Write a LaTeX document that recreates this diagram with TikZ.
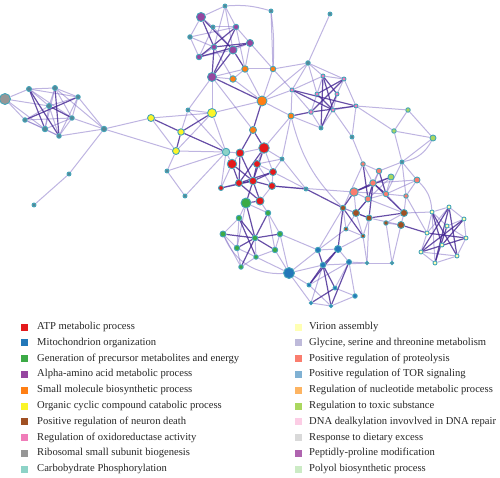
\documentclass[tikz,border=0pt]{standalone}
\usepackage{fontspec}
\setmainfont{Liberation Serif}
\pgfdeclarelayer{bg}
\pgfsetlayers{bg,main}

% legend colours
\definecolor{atp}{RGB}{228,26,28}
\definecolor{mito}{RGB}{35,120,185}
\definecolor{gen}{RGB}{60,170,70}
\definecolor{amino}{RGB}{150,70,160}
\definecolor{smol}{RGB}{255,127,20}
\definecolor{orgc}{RGB}{250,245,40}
\definecolor{neur}{RGB}{160,80,35}
\definecolor{oxid}{RGB}{240,125,185}
\definecolor{ribo}{RGB}{150,150,150}
\definecolor{carb}{RGB}{141,211,199}
\definecolor{vir}{RGB}{255,255,179}
\definecolor{gly}{RGB}{190,186,218}
\definecolor{prot}{RGB}{250,125,110}
\definecolor{tor}{RGB}{128,177,211}
\definecolor{nucl}{RGB}{253,180,98}
\definecolor{tox}{RGB}{170,215,95}
\definecolor{dna}{RGB}{252,205,229}
\definecolor{diet}{RGB}{217,217,217}
\definecolor{pep}{RGB}{175,100,175}
\definecolor{poly}{RGB}{204,235,197}
\definecolor{tcol}{RGB}{85,135,150}
\definecolor{ringc}{RGB}{70,165,185}
\definecolor{edgel}{RGB}{125,105,195}
\definecolor{edged}{RGB}{65,35,145}

\tikzset{
  vt/.style={circle, draw=ringc, line width=0.9pt, inner sep=0pt},
  lt/.style={draw=edgel, line width=1pt, opacity=0.5},
  dk/.style={draw=edged, line width=1.2pt, opacity=0.8},
  swatch/.style={rectangle, inner sep=0pt, minimum size=7pt},
  lgtxt/.style={anchor=west, inner sep=0pt, text=black!85, font=\fontsize{10.6}{13}\selectfont}
}

\begin{document}
\begin{tikzpicture}[x=1pt, y=-1pt]
\useasboundingbox (0,0) rectangle (500,478);

% network nodes
\foreach \nm/\px/\py/\col/\sz in {
  g0/5/99/ribo/11, g1/29/89/tcol/5, g2/55/88/tcol/5, g3/78/97/tcol/4.5,
  g4/49/106/tcol/5, g5/25/120/tcol/4.5, g6/72/118/tcol/4.5, g7/45/129/tcol/5.5,
  g8/59/136/tcol/4.5, h1/104/129/tcol/5.5, h2/69/174/tcol/4, h3/34/205/tcol/4,
  y1/151/118/orgc/7, y2/212/113/orgc/9, y3/181/132/orgc/6.5, y4/176/151/orgc/7,
  t1/188/110/tcol/4, t2/167/171/tcol/4, t3/185/196/tcol/4, c1/226/152/carb/7.5,
  p1/201/17/amino/9, t4/225/6/tcol/4, t5/190/37/tcol/4.5, t6/213/27/tcol/4,
  p2/236/27/amino/5.5, p3/250/43/amino/7, p4/214/47/amino/5.5, p5/233/50/amino/8,
  p6/199/57/amino/5.5, p7/212/77/amino/9, o1/245/69/smol/6.5, o2/233/79/smol/6.5,
  o3/273/69/smol/5.5, t7/271/11/tcol/4, o4/262/101/smol/10, o5/291/116/smol/6,
  o6/253/130/smol/7, t8/330/14/tcol/4, t9/308/63/tcol/4.5,
  k1/292/90/oxid/4, k2/323/76/oxid/4, k3/344/79/oxid/4, k4/317/94/oxid/4,
  k5/337/94/oxid/4, k6/356/106/oxid/4, k7/311/112/oxid/4.5, k8/333/110/oxid/4,
  t10/321/128/tcol/4, t11/352/137/tcol/4,
  l1/408/110/tox/4.5, l2/394/131/tox/4.5, l3/433/138/tox/6,
  r1/240/153/atp/8, r2/264/148/atp/10.5, r3/232/164/atp/9.5, r4/257/164/atp/7,
  t12/282/159/tcol/4, r5/273/172/atp/7, r6/239/183/atp/7, r7/253/181/atp/7.5,
  r8/272/186/atp/7, r9/221/188/atp/5, r10/260/201/atp/8, t13/306/189/tcol/4,
  n1/246/203/gen/10, n2/268/213/gen/5.5, n3/239/218/gen/5.5, n4/223/234/gen/6,
  n5/255/238/gen/5.5, n6/280/234/gen/5.5, n7/237/248/gen/5.5, n8/275/250/gen/5.5,
  n9/256/257/gen/4.5, n10/241/267/gen/4.5,
  b1/289/273/mito/11, b2/318/250/mito/5.5, b3/338/249/mito/7, b4/323/265/mito/5.5,
  b5/349/262/mito/5, b6/309/285/mito/4, b7/335/288/mito/4, b8/311/303/mito/3.5,
  b9/331/306/mito/3.5, b10/355/296/mito/4.5, d1/367/263/tcol/3.5, d2/392/263/tcol/3.5,
  s1/363/164/prot/4.5, s2/379/171/prot/5.5, t14/402/162/tcol/4, l4/391/177/tox/6,
  s3/373/183/prot/6.5, s4/354/192/prot/8.5, s5/386/194/prot/5.5, s6/368/199/prot/6,
  s7/417/180/prot/6, s8/406/196/prot/4.5,
  u1/343/208/neur/5.5, u2/356/213/neur/7, u3/369/218/neur/6, u4/404/213/neur/7,
  u5/386/223/neur/4.5, u6/401/225/neur/7, u7/346/229/neur/4, u8/363/236/neur/4,
  w1/432/212/vir/4, w2/449/207/vir/4, w3/464/219/vir/4, w4/447/226/vir/4,
  w5/427/233/vir/4, w6/466/238/vir/4, w7/442/245/vir/4, w8/421/252/vir/4,
  w9/457/256/vir/4, w10/435/263/vir/4}
  \node[vt, fill=\col, minimum size=\sz pt] (\nm) at (\px,\py) {};

\begin{pgfonlayer}{bg}
% light edges
\foreach \a/\b in {
  g0/g1, g0/g4, g0/g5, g0/g7, g1/g2, g1/g4, g1/g6, g1/g3, g2/g4, g2/g3, g2/g7,
  g2/g6, g3/g4, g3/g6, g3/g8, g4/g5, g4/g7, g4/g8, g5/g7, g5/g6, g6/g8, g6/g7,
  g7/g8, g5/g8, g3/h1, g6/h1, g8/h1, g2/h1,
  h1/y1, h1/y4, h1/h2, h2/h3,
  y1/y2, y1/y4, y4/y2, t1/c1, t1/y3, t1/p7, y4/c1, t2/c1, t2/t3, t3/c1, y2/o4,
  y2/p7, y2/c1, y2/t1, t2/y4,
  p1/t6, p1/t4, p1/t5, t5/p2, t5/p4, t5/p6, t6/p5, t6/p2, t6/p6, t4/p2, t4/p5,
  t4/p4, p2/p3, p3/p5, p3/o3, p3/o1, p5/p6, p6/p4, p2/o1, p7/o2, p7/o1,
  o1/o3, o2/o1, o3/o4, o2/o4, o1/o4, p4/o2, t7/o3, o4/o5, o4/k1, o4/t9, o3/k1,
  o3/t9, p7/o6,
  t8/t9, t9/k1, t9/k2, t9/k4, t9/k3, k1/k2, k2/k3, k3/k6, k1/k7, k7/t10, t10/k8,
  k8/k6, k2/k4, k3/k5, k4/k7, k5/k8, k6/l1, k6/l2, l1/l2, l1/l3, l2/l3, l2/t14,
  l3/t14, k6/t11, o5/t10, o5/k1, o5/t12, o5/r2, t11/s1, k8/t11,
  r1/r2, r1/r3, c1/r1, c1/r3, c1/r9, r2/r4, r2/t12, t12/r4, t12/r5, r4/r5, r3/r9,
  r5/r8, r6/r9, r8/r10, r4/r8, r2/r5, t12/t13, r5/t13, r10/n2, r8/s4,
  n1/n3, n1/n7, n1/n2, n3/n4, n4/n7, n4/n10, n7/n9, n2/n6, n2/n8, n6/n8, n8/n9,
  n5/n9, n9/n10, n7/n10, n3/n7, n8/b1, n9/b1, n6/b2, n6/b1,
  b1/b2, b1/b4, b1/b6, b1/b8, b2/b3, b3/b5, b4/b8, b5/b6, b5/b7, b6/b9, b8/b9,
  b7/b10, b9/b10, b5/b10, b4/d1, d1/d2, b5/d1, b2/u7, b2/u1, b3/u8,
  s1/s2, s1/s3, s2/s6, s2/s3, s2/t14, t14/s7, t14/s8, t14/s5, s7/s8, s7/s5,
  s7/s3, l4/s5, l4/s6, l4/s3, s4/s5, s4/s6, s5/s6, s8/u4, s5/u4, s6/u2, s1/u1,
  s4/u2, s6/u4, s8/s5,
  u1/u2, u1/u3, u1/u7, u2/u7, u2/u8, u3/u8, u3/u6, u4/u6, u4/u5, u5/u6, u7/u8,
  u5/d2, u3/d1, u8/d1, u6/d2, s8/w5, u4/w1,
  w1/w2, w2/w3, w3/w6, w6/w9, w9/w10, w10/w8, w8/w5, w5/w1, w1/w4, w4/w6,
  w1/w10, w2/w5, w3/w4, w8/w9}
  \draw[lt] (\a) -- (\b);

% curved light edges
\draw[lt] (t4) to[bend left=10] (t7);
\draw[lt] (n4) to[bend right=35] (b1);
\draw[lt] (o5) to[bend right=15] (u1);
\draw[lt] (s7) to[bend left=20] (w1);
\draw[lt] (l3) to[bend left=25] (t14);
\draw[lt] (t7) to[bend left=5] (o3);

% dark edges
\foreach \a/\b in {
  g1/g7, g2/g8, g3/g5, g4/g6, g1/g8, y1/y3, y3/y4, y3/y2, y3/c1,
  p1/p5, p1/p4, p2/p6, p2/p7, p4/p7, p5/p7, p5/o1, p4/p3, p6/p3, p7/o4, o4/o6,
  o6/r2, o6/r1, r1/r6, r1/r7, r2/r7, r3/r7, r3/r6, r4/r7, r5/r7, r6/r7, r7/r8,
  r7/r9, r7/r10, r6/r10, r7/n1, r10/n1, r5/r6, r8/t13, t13/u1, r2/r6,
  k1/k6, k2/t10, k3/k7, k2/k5, k3/k4, k1/k8, k7/k6, k4/k8, k5/t10, k2/k8, o5/k7,
  n1/n5, n3/n5, n4/n5, n5/n6, n5/n7, n5/n10, n5/n8, n2/n5, n3/n9,
  b2/b4, b3/b6, b4/b7, b4/b6, b3/b4, b5/b9, b7/b8, b4/b9, b3/u1,
  s4/s3, s1/s6, s3/s6, s3/s5, s2/s5, s3/u3, s4/u1, s3/u4, l4/s4,
  u3/u4, u2/u3, u1/u8, u6/w5, u2/s6,
  w1/w7, w1/w9, w2/w10, w2/w8, w3/w7, w3/w8, w5/w6, w4/w10, w6/w8, w2/w9}
  \draw[dk] (\a) -- (\b);
\end{pgfonlayer}

% legend, left column
\foreach \col/\txt [count=\i] in {
  atp/ATP metabolic process,
  mito/Mitochondrion organization,
  gen/Generation of precursor metabolites and energy,
  amino/Alpha-amino acid metabolic process,
  smol/Small molecule biosynthetic process,
  orgc/Organic cyclic compound catabolic process,
  neur/Positive regulation of neuron death,
  oxid/Regulation of oxidoreductase activity,
  ribo/Ribosomal small subunit biogenesis,
  carb/Carbobydrate Phosphorylation}
{
  \node[swatch, fill=\col] (swl\i) at (24.5, 327+15.8*\i-15.8) {};
  \node[lgtxt] (lgl\i) at (37, 327+15.8*\i-15.8) {\txt};
}

% legend, right column
\foreach \col/\txt [count=\i] in {
  vir/Virion assembly,
  gly/{Glycine, serine and threonine metabolism},
  prot/Positive regulation of proteolysis,
  tor/Positive regulation of TOR signaling,
  nucl/Regulation of nucleotide metabolic process,
  tox/Regulation to toxic substance,
  dna/DNA dealkylation invovlved in DNA repair,
  diet/Response to dietary excess,
  pep/Peptidly-proline modification,
  poly/Polyol biosynthetic process}
{
  \node[swatch, fill=\col] (swr\i) at (298.5, 327+15.8*\i-15.8) {};
  \node[lgtxt] (lgr\i) at (309, 327+15.8*\i-15.8) {\txt};
}
\end{tikzpicture}
\end{document}
